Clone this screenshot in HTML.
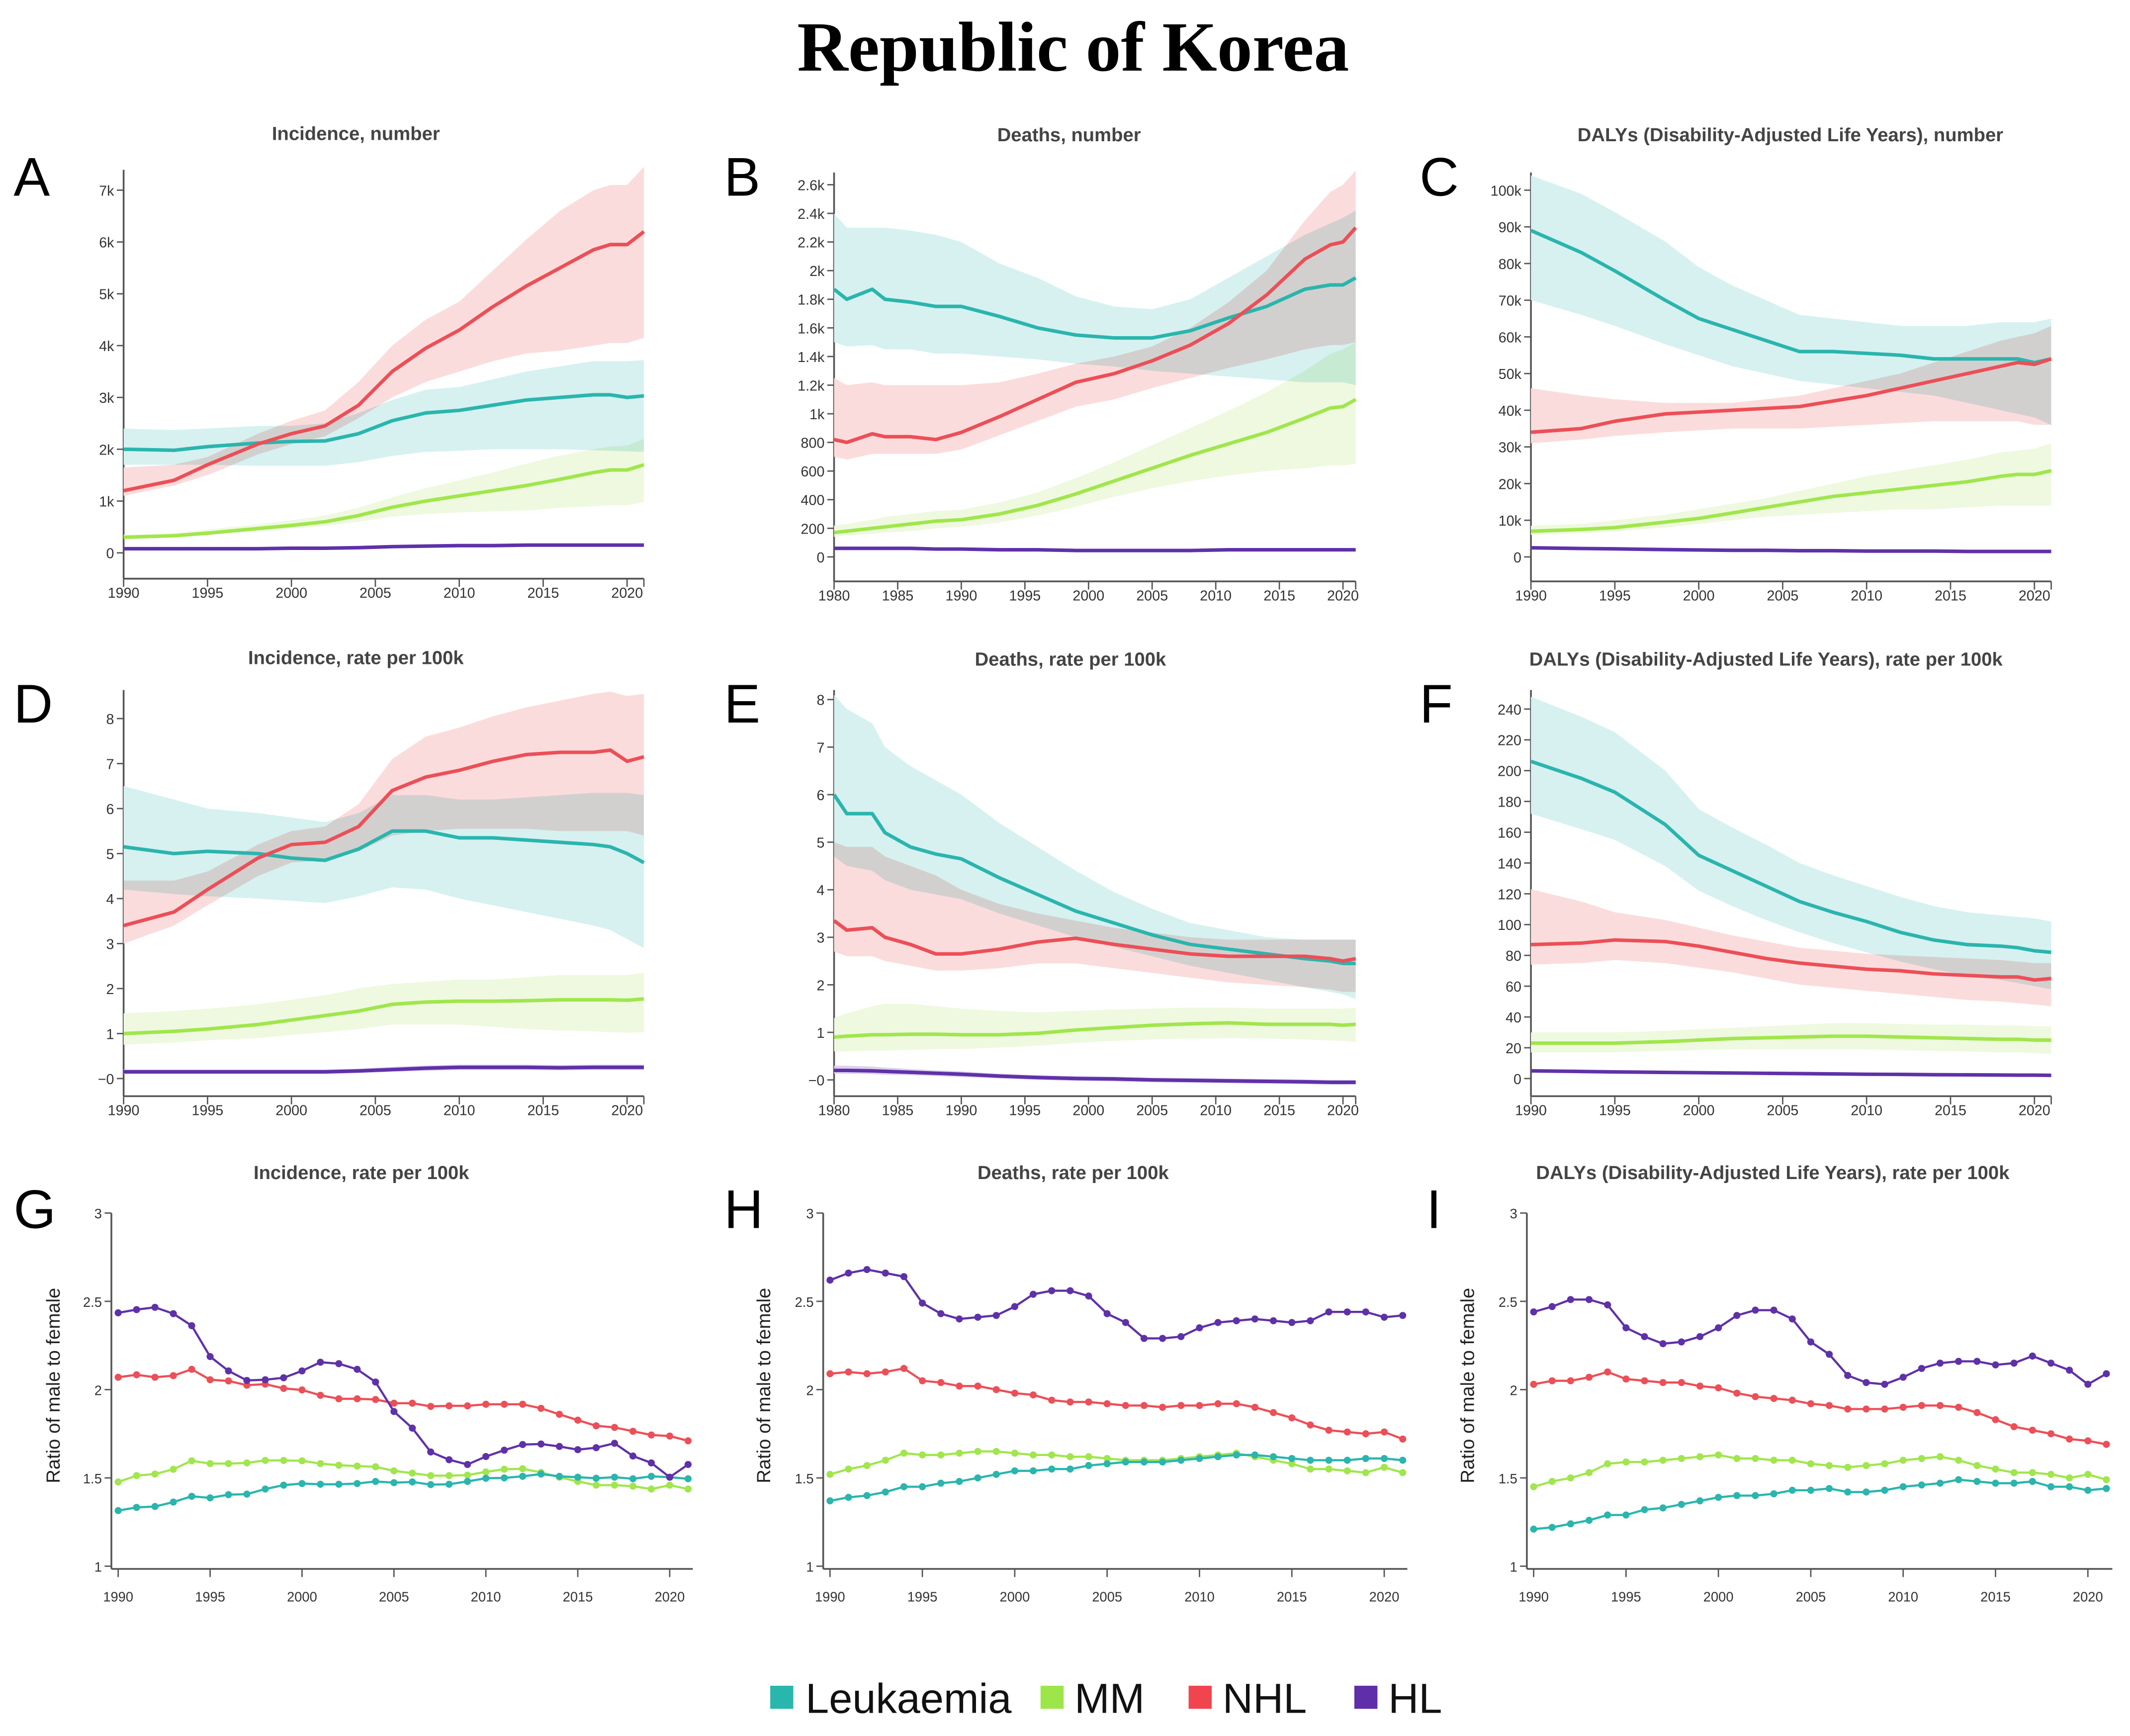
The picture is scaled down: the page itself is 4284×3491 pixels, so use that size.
<!DOCTYPE html>
<html><head><meta charset="utf-8"><style>
html,body{margin:0;padding:0;background:#fff;}
svg{display:block;}
text{font-family:"Liberation Sans",sans-serif;}
</style></head><body>
<svg id="chart" width="4284" height="3491" viewBox="0 0 1568 1278" preserveAspectRatio="none" xmlns="http://www.w3.org/2000/svg">
<rect width="1568" height="1278" fill="#fff"/>
<text x="790" y="52" text-anchor="middle" font-weight="bold" font-size="52" fill="#000" style="font-family:'Liberation Serif',serif">Republic of Korea</text>
<g id="panels"></g>
<g>
<rect x="567" y="1241" width="17" height="17" fill="#29b6ad"/>
<text x="593" y="1261" font-size="31" fill="#111">Leukaemia</text>
<rect x="766" y="1241" width="17" height="17" fill="#9de64a"/>
<text x="791" y="1261" font-size="31" fill="#111">MM</text>
<rect x="875" y="1241" width="17" height="17" fill="#f0454f"/>
<text x="900" y="1261" font-size="31" fill="#111">NHL</text>
<rect x="997" y="1241" width="17" height="17" fill="#5e2fa8"/>
<text x="1022" y="1261" font-size="31" fill="#111">HL</text>
</g>
</svg>
<script>
// ---------- data ----------
const yrsA = [1990,1993,1995,1998,2000,2002,2004,2006,2008,2010,2012,2014,2016,2018,2019,2020,2021];
const yrsB = [1980,1981,1983,1984,1986,1988,1990,1993,1996,1999,2002,2005,2008,2011,2014,2017,2019,2020,2021];
const yrsG = [1990,1991,1992,1993,1994,1995,1996,1997,1998,1999,2000,2001,2002,2003,2004,2005,2006,2007,2008,2009,2010,2011,2012,2013,2014,2015,2016,2017,2018,2019,2020,2021];

// A incidence number (thousands)
const aLeuk = [2.0,1.98,2.05,2.12,2.15,2.16,2.3,2.55,2.7,2.75,2.85,2.95,3.0,3.05,3.05,3.0,3.03];
const aLeukLo = [1.7,1.7,1.7,1.68,1.68,1.68,1.75,1.87,1.95,1.97,2.0,2.0,2.0,1.98,1.97,1.96,1.95];
const aLeukHi = [2.4,2.37,2.4,2.45,2.45,2.5,2.7,2.95,3.15,3.2,3.35,3.5,3.6,3.7,3.7,3.7,3.72];
const aNhl = [1.2,1.4,1.7,2.1,2.3,2.45,2.85,3.5,3.95,4.3,4.75,5.15,5.5,5.85,5.95,5.95,6.2];
const aNhlLo = [1.1,1.3,1.5,1.9,2.1,2.25,2.6,3.0,3.3,3.5,3.7,3.85,3.9,4.0,4.05,4.05,4.15];
const aNhlHi = [1.65,1.7,1.85,2.3,2.55,2.75,3.3,4.0,4.5,4.85,5.45,6.05,6.6,7.0,7.1,7.1,7.45];
const aMm = [0.3,0.33,0.38,0.47,0.53,0.6,0.72,0.88,1.0,1.1,1.2,1.3,1.42,1.55,1.6,1.6,1.7];
const aMmLo = [0.27,0.3,0.35,0.42,0.47,0.52,0.6,0.7,0.75,0.78,0.8,0.82,0.87,0.9,0.92,0.92,0.98];
const aMmHi = [0.35,0.38,0.45,0.55,0.63,0.72,0.87,1.07,1.25,1.4,1.55,1.72,1.88,2.0,2.05,2.07,2.2];
const aHl = [0.08,0.08,0.08,0.08,0.09,0.09,0.1,0.12,0.13,0.14,0.14,0.15,0.15,0.15,0.15,0.15,0.15];
const aHlLo = [0.06,0.06,0.06,0.06,0.07,0.07,0.08,0.09,0.1,0.11,0.11,0.12,0.12,0.12,0.12,0.12,0.12];
const aHlHi = [0.1,0.1,0.1,0.1,0.11,0.11,0.12,0.14,0.16,0.17,0.17,0.18,0.18,0.18,0.18,0.18,0.18];

// B deaths number (thousands)
const bLeuk = [1.87,1.8,1.87,1.8,1.78,1.75,1.75,1.68,1.6,1.55,1.53,1.53,1.58,1.67,1.75,1.87,1.9,1.9,1.95];
const bLeukLo = [1.5,1.47,1.48,1.45,1.45,1.42,1.42,1.4,1.38,1.35,1.33,1.3,1.28,1.26,1.24,1.22,1.22,1.22,1.2];
const bLeukHi = [2.4,2.3,2.3,2.3,2.28,2.25,2.2,2.05,1.95,1.82,1.75,1.73,1.8,1.95,2.1,2.25,2.33,2.37,2.42];
const bNhl = [0.82,0.8,0.86,0.84,0.84,0.82,0.87,0.98,1.1,1.22,1.28,1.37,1.48,1.63,1.83,2.08,2.18,2.2,2.3];
const bNhlLo = [0.7,0.68,0.72,0.72,0.72,0.72,0.75,0.85,0.95,1.05,1.1,1.18,1.25,1.32,1.38,1.45,1.48,1.48,1.5];
const bNhlHi = [1.25,1.2,1.22,1.2,1.2,1.2,1.2,1.22,1.28,1.35,1.4,1.47,1.6,1.78,2.0,2.35,2.55,2.6,2.7];
const bMm = [0.17,0.18,0.2,0.21,0.23,0.25,0.26,0.3,0.36,0.44,0.53,0.62,0.71,0.79,0.87,0.97,1.04,1.05,1.1];
const bMmLo = [0.14,0.15,0.16,0.17,0.18,0.2,0.21,0.24,0.29,0.35,0.42,0.48,0.53,0.57,0.6,0.62,0.64,0.64,0.65];
const bMmHi = [0.22,0.23,0.26,0.28,0.3,0.32,0.33,0.38,0.45,0.55,0.66,0.78,0.9,1.02,1.15,1.3,1.42,1.45,1.5];
const bHl = [0.06,0.06,0.06,0.06,0.06,0.055,0.055,0.05,0.05,0.045,0.045,0.045,0.045,0.05,0.05,0.05,0.05,0.05,0.05];
const bHlLo = [0.05,0.05,0.05,0.05,0.05,0.045,0.045,0.04,0.04,0.038,0.038,0.038,0.038,0.04,0.04,0.04,0.04,0.04,0.04];
const bHlHi = [0.07,0.07,0.07,0.07,0.07,0.065,0.065,0.06,0.06,0.055,0.055,0.055,0.055,0.06,0.06,0.06,0.06,0.06,0.06];

// C DALYs number (thousands)
const cLeuk = [89,83,78,70,65,62,59,56,56,55.5,55,54,54,54,54,53,54];
const cLeukLo = [70,66,63,58,55,52,50,48,47,46,45,44,42,40,39,38,36];
const cLeukHi = [104,99,94,86,79,74,70,66,65,64,63,63,63,64,64,64,65];
const cNhl = [34,35,37,39,39.5,40,40.5,41,42.5,44,46,48,50,52,53,52.5,54];
const cNhlLo = [31,32,33,34,34.5,35,35,35,35.5,36,36.5,37,37,37,37,36,36];
const cNhlHi = [46,44,43,42,42,42,43,44,46,48,50,53,56,59,60,61,63];
const cMm = [7,7.5,8,9.5,10.5,12,13.5,15,16.5,17.5,18.5,19.5,20.5,22,22.5,22.5,23.5];
const cMmLo = [6,6.5,7,8,9,10,11,11.5,12,12.5,13,13,13.5,14,14,14,14];
const cMmHi = [8.5,9,10,11.5,13,14.5,16,18,20,22,23.5,25,26.5,28.5,29,29.5,31];
const cHl = [2.5,2.3,2.2,2.0,1.9,1.8,1.8,1.7,1.7,1.6,1.6,1.6,1.5,1.5,1.5,1.5,1.5];
const cHlLo = [2.1,1.9,1.8,1.7,1.6,1.5,1.5,1.4,1.4,1.3,1.3,1.3,1.2,1.2,1.2,1.2,1.2];
const cHlHi = [2.9,2.7,2.6,2.3,2.2,2.1,2.1,2.0,2.0,1.9,1.9,1.9,1.8,1.8,1.8,1.8,1.8];

// D incidence rate
const dLeuk = [5.15,5.0,5.05,5.0,4.9,4.85,5.1,5.5,5.5,5.35,5.35,5.3,5.25,5.2,5.15,5.0,4.8];
const dLeukLo = [4.2,4.1,4.05,4.0,3.95,3.9,4.05,4.25,4.2,4.0,3.85,3.7,3.55,3.4,3.3,3.1,2.9];
const dLeukHi = [6.5,6.2,6.0,5.9,5.8,5.7,5.9,6.3,6.3,6.2,6.2,6.25,6.3,6.35,6.35,6.35,6.3];
const dNhl = [3.4,3.7,4.2,4.9,5.2,5.25,5.6,6.4,6.7,6.85,7.05,7.2,7.25,7.25,7.3,7.05,7.15];
const dNhlLo = [3.0,3.4,3.85,4.5,4.8,4.85,5.05,5.4,5.5,5.55,5.55,5.55,5.5,5.5,5.5,5.5,5.4];
const dNhlHi = [4.4,4.4,4.6,5.2,5.5,5.6,6.1,7.1,7.6,7.8,8.05,8.25,8.4,8.55,8.6,8.5,8.55];
const dMm = [1.0,1.05,1.1,1.2,1.3,1.4,1.5,1.65,1.7,1.72,1.72,1.73,1.75,1.75,1.75,1.74,1.77];
const dMmLo = [0.75,0.8,0.85,0.9,0.97,1.03,1.1,1.2,1.2,1.2,1.15,1.1,1.07,1.05,1.03,1.02,1.03];
const dMmHi = [1.45,1.5,1.55,1.65,1.75,1.85,2.0,2.1,2.15,2.2,2.2,2.25,2.3,2.3,2.3,2.3,2.35];
const dHl = [0.15,0.15,0.15,0.15,0.15,0.15,0.17,0.2,0.23,0.25,0.25,0.25,0.24,0.25,0.25,0.25,0.25];
const dHlLo = [0.1,0.1,0.1,0.1,0.1,0.1,0.12,0.15,0.17,0.19,0.19,0.19,0.18,0.19,0.19,0.19,0.19];
const dHlHi = [0.2,0.2,0.2,0.2,0.2,0.2,0.22,0.26,0.29,0.31,0.31,0.31,0.3,0.31,0.31,0.31,0.31];

// E deaths rate
const eLeuk = [6.0,5.6,5.6,5.2,4.9,4.75,4.65,4.25,3.9,3.55,3.3,3.05,2.85,2.75,2.65,2.55,2.5,2.45,2.45];
const eLeukLo = [4.7,4.5,4.4,4.2,4.0,3.9,3.8,3.5,3.25,3.0,2.8,2.6,2.4,2.25,2.1,1.95,1.85,1.8,1.7];
const eLeukHi = [8.1,7.8,7.5,7.0,6.6,6.3,6.0,5.4,4.9,4.4,3.95,3.6,3.3,3.15,3.0,2.95,2.95,2.95,2.95];
const eNhl = [3.35,3.15,3.2,3.0,2.85,2.65,2.65,2.75,2.9,2.98,2.85,2.75,2.65,2.6,2.6,2.6,2.55,2.5,2.55];
const eNhlLo = [2.7,2.6,2.6,2.5,2.4,2.3,2.3,2.35,2.45,2.45,2.35,2.25,2.15,2.05,2.0,1.95,1.9,1.85,1.85];
const eNhlHi = [5.0,4.9,4.9,4.7,4.5,4.3,4.0,3.7,3.5,3.35,3.2,3.1,3.0,2.95,2.95,2.95,2.95,2.95,2.95];
const eMm = [0.9,0.92,0.95,0.95,0.96,0.96,0.95,0.95,0.98,1.05,1.1,1.15,1.18,1.2,1.17,1.17,1.17,1.15,1.17];
const eMmLo = [0.6,0.6,0.62,0.62,0.63,0.65,0.65,0.68,0.72,0.78,0.82,0.85,0.87,0.88,0.87,0.85,0.83,0.82,0.8];
const eMmHi = [1.3,1.4,1.55,1.6,1.6,1.55,1.5,1.45,1.42,1.45,1.48,1.5,1.52,1.52,1.5,1.5,1.5,1.5,1.52];
const eHl = [0.2,0.2,0.19,0.18,0.16,0.14,0.12,0.08,0.05,0.03,0.02,0.0,-0.01,-0.02,-0.03,-0.04,-0.05,-0.05,-0.05];
const eHlLo = [0.13,0.13,0.12,0.11,0.1,0.08,0.06,0.03,0.0,-0.02,-0.03,-0.05,-0.06,-0.07,-0.08,-0.09,-0.1,-0.1,-0.1];
const eHlHi = [0.3,0.3,0.28,0.26,0.23,0.2,0.18,0.13,0.1,0.08,0.07,0.05,0.04,0.03,0.02,0.01,0.0,0.0,0.0];

// F DALYs rate
const fLeuk = [206,195,186,165,145,135,125,115,108,102,95,90,87,86,85,83,82];
const fLeukLo = [172,162,155,138,122,112,103,95,88,82,76,71,67,64,62,60,58];
const fLeukHi = [248,235,225,200,175,163,152,140,132,125,118,112,108,106,105,104,102];
const fNhl = [87,88,90,89,86,82,78,75,73,71,70,68,67,66,66,64,65];
const fNhlLo = [74,75,77,75,72,69,65,61,59,57,55,53,51,50,49,48,47];
const fNhlHi = [123,115,108,103,98,93,89,85,83,81,80,79,78,77,76,75,75];
const fMm = [23,23,23,24,25,26,26.5,27,27.5,27.5,27,26.5,26,25.5,25.5,25,25];
const fMmLo = [17,17,17,18,18.5,19,19,19,19,19,18.5,18,17.5,17,17,16.5,16];
const fMmHi = [30,30,30,31,32,33,34,35,36,36,35.5,35,35,34.5,34.5,34,34];
const fHl = [5,4.6,4.3,4,3.8,3.6,3.4,3.2,3.0,2.8,2.7,2.5,2.4,2.3,2.2,2.2,2.1];
const fHlLo = [4,3.7,3.4,3.2,3.0,2.9,2.7,2.5,2.4,2.2,2.1,2.0,1.9,1.8,1.7,1.7,1.6];
const fHlHi = [6,5.6,5.2,4.9,4.6,4.4,4.1,3.9,3.7,3.5,3.3,3.1,3.0,2.9,2.8,2.8,2.7];

// G/H/I ratios
const gHl = [2.435,2.453,2.466,2.430,2.362,2.187,2.106,2.052,2.056,2.067,2.106,2.155,2.147,2.115,2.043,1.876,1.782,1.647,1.603,1.576,1.621,1.657,1.689,1.692,1.678,1.660,1.671,1.696,1.624,1.585,1.504,1.576];
const gNhl = [2.070,2.084,2.070,2.079,2.115,2.056,2.049,2.025,2.031,2.007,1.998,1.968,1.948,1.948,1.944,1.923,1.923,1.905,1.908,1.908,1.917,1.917,1.917,1.894,1.860,1.827,1.795,1.786,1.764,1.743,1.737,1.710];
const gMm = [1.477,1.513,1.522,1.549,1.597,1.581,1.581,1.585,1.599,1.599,1.597,1.581,1.572,1.567,1.563,1.540,1.527,1.513,1.513,1.516,1.534,1.549,1.552,1.531,1.504,1.480,1.459,1.459,1.453,1.437,1.459,1.437];
const gLeuk = [1.315,1.333,1.338,1.363,1.396,1.387,1.405,1.408,1.437,1.459,1.468,1.464,1.464,1.468,1.480,1.473,1.477,1.462,1.464,1.480,1.498,1.500,1.509,1.522,1.509,1.504,1.498,1.504,1.495,1.509,1.504,1.495];
const hHl = [2.62,2.66,2.68,2.66,2.64,2.49,2.43,2.40,2.41,2.42,2.47,2.54,2.56,2.56,2.53,2.43,2.38,2.29,2.29,2.30,2.35,2.38,2.39,2.40,2.39,2.38,2.39,2.44,2.44,2.44,2.41,2.42];
const hNhl = [2.09,2.10,2.09,2.10,2.12,2.05,2.04,2.02,2.02,2.00,1.98,1.97,1.94,1.93,1.93,1.92,1.91,1.91,1.90,1.91,1.91,1.92,1.92,1.90,1.87,1.84,1.80,1.77,1.76,1.75,1.76,1.72];
const hMm = [1.52,1.55,1.57,1.60,1.64,1.63,1.63,1.64,1.65,1.65,1.64,1.63,1.63,1.62,1.62,1.61,1.60,1.60,1.60,1.61,1.62,1.63,1.64,1.62,1.60,1.58,1.55,1.55,1.54,1.53,1.56,1.53];
const hLeuk = [1.37,1.39,1.40,1.42,1.45,1.45,1.47,1.48,1.50,1.52,1.54,1.54,1.55,1.55,1.57,1.58,1.59,1.59,1.59,1.60,1.61,1.62,1.63,1.63,1.62,1.61,1.60,1.60,1.60,1.61,1.61,1.60];
const iHl = [2.44,2.47,2.51,2.51,2.48,2.35,2.30,2.26,2.27,2.30,2.35,2.42,2.45,2.45,2.40,2.27,2.20,2.08,2.04,2.03,2.07,2.12,2.15,2.16,2.16,2.14,2.15,2.19,2.15,2.11,2.03,2.09];
const iNhl = [2.03,2.05,2.05,2.07,2.10,2.06,2.05,2.04,2.04,2.02,2.01,1.98,1.96,1.95,1.94,1.92,1.91,1.89,1.89,1.89,1.90,1.91,1.91,1.90,1.87,1.83,1.79,1.77,1.75,1.72,1.71,1.69];
const iMm = [1.45,1.48,1.50,1.53,1.58,1.59,1.59,1.60,1.61,1.62,1.63,1.61,1.61,1.60,1.60,1.58,1.57,1.56,1.57,1.58,1.60,1.61,1.62,1.60,1.57,1.55,1.53,1.53,1.52,1.50,1.52,1.49];
const iLeuk = [1.21,1.22,1.24,1.26,1.29,1.29,1.32,1.33,1.35,1.37,1.39,1.40,1.40,1.41,1.43,1.43,1.44,1.42,1.42,1.43,1.45,1.46,1.47,1.49,1.48,1.47,1.47,1.48,1.45,1.45,1.43,1.44];

// tick labels
const ticksA = ["0","1k","2k","3k","4k","5k","6k","7k"];
const ticksB = ["0","200","400","600","800","1k","1.2k","1.4k","1.6k","1.8k","2k","2.2k","2.4k","2.6k"];
const ticksC = ["0","10k","20k","30k","40k","50k","60k","70k","80k","90k","100k"];
const ticksD = ["−0","1","2","3","4","5","6","7","8"];
const ticksE = ["−0","1","2","3","4","5","6","7","8"];
const ticksF = ["0","20","40","60","80","100","120","140","160","180","200","220","240"];
const ticksG = ["1","1.5","2","2.5","3"];
const xTicks1990 = [1990,1995,2000,2005,2010,2015,2020];
const xTicks1980 = [1980,1985,1990,1995,2000,2005,2010,2015,2020];

// ---------- drawing ----------
const NS = "http://www.w3.org/2000/svg";
const root = document.getElementById('panels');
const COL = {leuk:"#2ab5ad", mm:"#a0e64c", nhl:"#ec4f57", hl:"#5f31a8"};
const BAND = {leuk:"#d6f1f0", mm:"#eef9df", nhl:"#fbdcdc", hl:"#ddd0ef"};
function mk(tag, attrs, parent){
  const e = document.createElementNS(NS, tag);
  for (const k in attrs) e.setAttribute(k, attrs[k]);
  (parent||root).appendChild(e);
  return e;
}
function linScale(d0,d1,r0,r1){ return v => r0 + (v-d0)/(d1-d0)*(r1-r0); }

function axes(g, P){
  const ax = mk('g', {}, g);
  
  
  mk('line',{x1:P.ax,y1:P.top,x2:P.ax,y2:P.base,stroke:"#555","stroke-width":1.3},ax);
  mk('line',{x1:P.ax,y1:P.base,x2:P.xr,y2:P.base,stroke:"#555","stroke-width":1.3},ax);
  P.yt.forEach((lab,i)=>{
    const v = P.y0 + i*P.ys, y = P.y(v);
    mk('line',{x1:P.ax-5,y1:y,x2:P.ax,y2:y,stroke:"#555","stroke-width":1},ax);
    const t = mk('text',{x:P.ax-7,y:y+4,"text-anchor":"end","font-size":P.fs||10.5,fill:"#333"},ax);
    t.textContent = lab;
    
    
  });
  P.xt.forEach(yr=>{
    const x = P.x(yr);
    mk('line',{x1:x,y1:P.base,x2:x,y2:P.base+6,stroke:"#555","stroke-width":1},ax);
    const t = mk('text',{x:x,y:P.base+(P.xoff||14),"text-anchor":"middle","font-size":P.fs||10.5,fill:"#333"},ax);
    t.textContent = yr;
    
    
  });
  if (P.endTick) mk('line',{x1:P.xr,y1:P.base,x2:P.xr,y2:P.base+6,stroke:"#555","stroke-width":1},ax);
  const tt = mk('text',{x:P.tx,y:P.ty,"text-anchor":"middle","font-size":14,"font-weight":"bold",fill:"#444"},g);
  tt.textContent = P.title;
  
  
  const lt = mk('text',{x:P.lx,y:P.ly,"font-size":40,fill:"#000"},g);
  lt.textContent = P.letter;
  
  
}

function bandPanel(P, series){
  const g = mk('g', {});
  
  
  axes(g,P);
  const bands = mk('g',{style:"isolation:isolate"},g);
  series.forEach(s=>{
    let d = "";
    s.hi.forEach((v,i)=>{ d += (i?"L":"M")+P.x(P.yrs[i]).toFixed(2)+","+P.y(v).toFixed(2); });
    for (let i=s.lo.length-1;i>=0;i--) d += "L"+P.x(P.yrs[i]).toFixed(2)+","+P.y(s.lo[i]).toFixed(2);
    const b = mk('path',{d:d+"Z",fill:BAND[s.k],style:"mix-blend-mode:multiply"},bands);
    
    
  });
  series.forEach(s=>{
    let d = "";
    s.m.forEach((v,i)=>{ d += (i?"L":"M")+P.x(P.yrs[i]).toFixed(2)+","+P.y(v).toFixed(2); });
    const l = mk('path',{d:d,fill:"none",stroke:COL[s.k],"stroke-width":2.6,"stroke-linejoin":"round"},g);
    
    
  });
}

function ratioPanel(P, series){
  const g = mk('g', {});
  
  
  axes(g,P);
  const yl = mk('text',{x:0,y:0,transform:`translate(${P.ylx},1020) rotate(-90)`,"text-anchor":"middle","font-size":14,fill:"#222"},g);
  yl.textContent = "Ratio of male to female";
  
  
  series.forEach(s=>{
    let d = "";
    s.m.forEach((v,i)=>{ d += (i?"L":"M")+P.x(yrsG[i]).toFixed(2)+","+P.y(v).toFixed(2); });
    const l = mk('path',{d:d,fill:"none",stroke:COL[s.k],"stroke-width":1.6},g);
    
    
    s.m.forEach((v,i)=>{
      const c = mk('circle',{cx:P.x(yrsG[i]),cy:P.y(v),r:2.6,fill:COL[s.k]},g);
      
      
    });
  });
}

function S(k,m,lo,hi){ return {k,m,lo,hi}; }

bandPanel({id:"panel-a",letter:"A",lx:10,ly:144,title:"Incidence, number",tx:262,ty:103,ax:91,top:125,base:426,xr:474,
  x:linScale(1990,2021,91,474),y:linScale(0,7,407,140),y0:0,ys:1,yt:ticksA,xt:xTicks1990,yrs:yrsA,endTick:true},
  [S('leuk',aLeuk,aLeukLo,aLeukHi),S('nhl',aNhl,aNhlLo,aNhlHi),S('mm',aMm,aMmLo,aMmHi),S('hl',aHl,aHlLo,aHlHi)]);
bandPanel({id:"panel-b",letter:"B",lx:533,ly:144,title:"Deaths, number",tx:787,ty:104,ax:614,top:127,base:428,xr:998,
  x:linScale(1980,2021,614,998),y:linScale(0,2.6,410,136),y0:0,ys:0.2,yt:ticksB,xt:xTicks1980,yrs:yrsB,endTick:true},
  [S('leuk',bLeuk,bLeukLo,bLeukHi),S('nhl',bNhl,bNhlLo,bNhlHi),S('mm',bMm,bMmLo,bMmHi),S('hl',bHl,bHlLo,bHlHi)]);
bandPanel({id:"panel-c",letter:"C",lx:1045,ly:144,title:"DALYs (Disability-Adjusted Life Years), number",tx:1318,ty:104,ax:1127,top:127,base:428,xr:1510,
  x:linScale(1990,2021,1127,1510),y:linScale(0,100,410,140),y0:0,ys:10,yt:ticksC,xt:xTicks1990,yrs:yrsA,endTick:true},
  [S('leuk',cLeuk,cLeukLo,cLeukHi),S('nhl',cNhl,cNhlLo,cNhlHi),S('mm',cMm,cMmLo,cMmHi),S('hl',cHl,cHlLo,cHlHi)]);
bandPanel({id:"panel-d",letter:"D",lx:10,ly:532,title:"Incidence, rate per 100k",tx:262,ty:489,ax:91,top:508,base:807,xr:474,
  x:linScale(1990,2021,91,474),y:linScale(0,8,794,529),y0:0,ys:1,yt:ticksD,xt:xTicks1990,yrs:yrsA,endTick:true},
  [S('leuk',dLeuk,dLeukLo,dLeukHi),S('nhl',dNhl,dNhlLo,dNhlHi),S('mm',dMm,dMmLo,dMmHi),S('hl',dHl,dHlLo,dHlHi)]);
bandPanel({id:"panel-e",letter:"E",lx:533,ly:532,title:"Deaths, rate per 100k",tx:788,ty:490,ax:614,top:508,base:807,xr:998,
  x:linScale(1980,2021,614,998),y:linScale(0,8,795,515),y0:0,ys:1,yt:ticksE,xt:xTicks1980,yrs:yrsB,endTick:true},
  [S('leuk',eLeuk,eLeukLo,eLeukHi),S('nhl',eNhl,eNhlLo,eNhlHi),S('mm',eMm,eMmLo,eMmHi),S('hl',eHl,eHlLo,eHlHi)]);
bandPanel({id:"panel-f",letter:"F",lx:1045,ly:532,title:"DALYs (Disability-Adjusted Life Years), rate per 100k",tx:1300,ty:490,ax:1127,top:508,base:807,xr:1510,
  x:linScale(1990,2021,1127,1510),y:linScale(0,240,794,522),y0:0,ys:20,yt:ticksF,xt:xTicks1990,yrs:yrsA,endTick:true},
  [S('leuk',fLeuk,fLeukLo,fLeukHi),S('nhl',fNhl,fNhlLo,fNhlHi),S('mm',fMm,fMmLo,fMmHi),S('hl',fHl,fHlLo,fHlHi)]);
ratioPanel({id:"panel-g",letter:"G",lx:10,ly:904,title:"Incidence, rate per 100k",tx:266,ty:868,ax:82,top:893,base:1155,xr:510,ylx:44,
  x:linScale(1990,2020,87,493),y:linScale(1,3,1153,893),y0:1,ys:0.5,yt:ticksG,xt:xTicks1990,fs:10,xoff:24},
  [S('nhl',gNhl),S('mm',gMm),S('leuk',gLeuk),S('hl',gHl)]);
ratioPanel({id:"panel-h",letter:"H",lx:533,ly:904,title:"Deaths, rate per 100k",tx:790,ty:868,ax:606,top:893,base:1155,xr:1036,ylx:567,
  x:linScale(1990,2020,611,1019),y:linScale(1,3,1153,893),y0:1,ys:0.5,yt:ticksG,xt:xTicks1990,fs:10,xoff:24},
  [S('nhl',hNhl),S('mm',hMm),S('leuk',hLeuk),S('hl',hHl)]);
ratioPanel({id:"panel-i",letter:"I",lx:1050,ly:904,title:"DALYs (Disability-Adjusted Life Years), rate per 100k",tx:1305,ty:868,ax:1124,top:893,base:1155,xr:1555,ylx:1085,
  x:linScale(1990,2020,1129,1537),y:linScale(1,3,1153,893),y0:1,ys:0.5,yt:ticksG,xt:xTicks1990,fs:10,xoff:24},
  [S('nhl',iNhl),S('mm',iMm),S('leuk',iLeuk),S('hl',iHl)]);
</script>
</body></html>
